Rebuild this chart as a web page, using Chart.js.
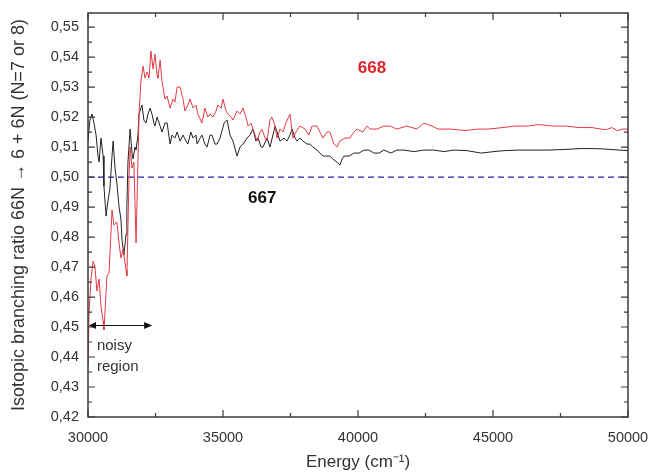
<!DOCTYPE html>
<html>
<head>
<meta charset="utf-8">
<script src="https://cdn.jsdelivr.net/npm/chart.js@4.4.0/dist/chart.umd.min.js"></script>
<style>
  html, body { margin: 0; padding: 0; background: #fff; }
  #wrap { width: 651px; height: 473px; }
</style>
</head>
<body>
<div id="wrap"><canvas id="brChart" width="651" height="473"></canvas></div>
<script>
// energies (cm-1) and isotopic branching ratios
const redEnergy = [30000, 30040, 30110, 30190, 30260, 30330, 30410, 30480, 30560, 30590, 30630, 30700, 30780, 30890, 30960, 31070, 31150, 31220, 31300, 31410, 31440, 31520, 31560, 31630, 31700, 31780, 31850, 31890, 31960, 32040, 32110, 32190, 32260, 32330, 32410, 32480, 32560, 32590, 32670, 32740, 32850, 32930, 33040, 33150, 33220, 33300, 33410, 33520, 33590, 33700, 33780, 33890, 34000, 34070, 34220, 34330, 34440, 34520, 34630, 34740, 34810, 34930, 35000, 35110, 35190, 35300, 35370, 35520, 35630, 35740, 35850, 35930, 36040, 36110, 36190, 36260, 36370, 36440, 36560, 36630, 36740, 36810, 36930, 37000, 37110, 37220, 37330, 37480, 37590, 37700, 37850, 38040, 38180, 38300, 38480, 38590, 38700, 38850, 38960, 39110, 39220, 39330, 39520, 39700, 39850, 39960, 40180, 40330, 40440, 40700, 40960, 41180, 41440, 41810, 42180, 42440, 42740, 42960, 43440, 43960, 44440, 44810, 45370, 45810, 46300, 46670, 47220, 47700, 48180, 48670, 49000, 49200, 49400, 49600, 49800, 50000];
const red668 = [0.437, 0.455, 0.466, 0.472, 0.470, 0.462, 0.466, 0.457, 0.452, 0.449, 0.455, 0.467, 0.468, 0.489, 0.484, 0.485, 0.478, 0.473, 0.476, 0.469, 0.467, 0.500, 0.510, 0.503, 0.505, 0.478, 0.505, 0.521, 0.532, 0.537, 0.533, 0.535, 0.533, 0.542, 0.536, 0.541, 0.534, 0.533, 0.539, 0.532, 0.526, 0.527, 0.523, 0.526, 0.525, 0.530, 0.530, 0.526, 0.522, 0.524, 0.526, 0.523, 0.524, 0.521, 0.518, 0.523, 0.520, 0.521, 0.520, 0.522, 0.524, 0.523, 0.526, 0.522, 0.521, 0.520, 0.519, 0.522, 0.521, 0.523, 0.520, 0.517, 0.518, 0.516, 0.514, 0.512, 0.515, 0.516, 0.513, 0.512, 0.519, 0.520, 0.517, 0.513, 0.516, 0.515, 0.518, 0.521, 0.513, 0.515, 0.517, 0.516, 0.514, 0.517, 0.517, 0.515, 0.513, 0.515, 0.515, 0.511, 0.510, 0.512, 0.513, 0.513, 0.515, 0.516, 0.515, 0.517, 0.516, 0.516, 0.517, 0.517, 0.516, 0.517, 0.516, 0.518, 0.517, 0.516, 0.516, 0.5155, 0.516, 0.516, 0.5165, 0.517, 0.517, 0.5175, 0.517, 0.517, 0.5165, 0.5165, 0.516, 0.5158, 0.5165, 0.5155, 0.516, 0.516];

const blackEnergy = [30000, 30070, 30150, 30220, 30300, 30370, 30410, 30480, 30560, 30590, 30670, 30740, 30810, 30890, 30930, 31000, 31070, 31150, 31220, 31260, 31330, 31410, 31440, 31480, 31560, 31630, 31670, 31740, 31780, 31850, 31890, 31960, 32000, 32070, 32150, 32220, 32300, 32370, 32440, 32480, 32560, 32670, 32740, 32850, 32930, 33040, 33110, 33220, 33300, 33410, 33520, 33630, 33700, 33810, 33890, 34000, 34040, 34150, 34220, 34330, 34410, 34520, 34590, 34700, 34780, 34890, 35040, 35150, 35260, 35370, 35520, 35630, 35740, 35890, 36000, 36110, 36220, 36300, 36410, 36480, 36630, 36740, 36930, 37040, 37110, 37260, 37370, 37480, 37560, 37670, 37740, 37850, 37960, 38110, 38220, 38330, 38480, 38590, 38700, 38850, 38960, 39070, 39220, 39330, 39410, 39480, 39670, 39850, 40040, 40220, 40410, 40590, 40780, 40960, 41220, 41440, 41700, 42070, 42440, 42810, 43180, 43550, 44040, 44560, 45040, 45410, 45960, 46520, 47070, 47630, 48260, 48740, 49220, 49670, 50000];
const black667 = [0.512, 0.519, 0.521, 0.518, 0.514, 0.507, 0.505, 0.513, 0.507, 0.497, 0.487, 0.492, 0.496, 0.507, 0.512, 0.503, 0.498, 0.490, 0.486, 0.479, 0.474, 0.481, 0.490, 0.505, 0.516, 0.508, 0.506, 0.510, 0.509, 0.514, 0.521, 0.523, 0.524, 0.519, 0.518, 0.521, 0.523, 0.521, 0.518, 0.517, 0.520, 0.517, 0.515, 0.518, 0.518, 0.511, 0.514, 0.513, 0.515, 0.512, 0.514, 0.512, 0.511, 0.515, 0.513, 0.514, 0.511, 0.513, 0.514, 0.511, 0.510, 0.514, 0.514, 0.511, 0.511, 0.513, 0.518, 0.519, 0.514, 0.512, 0.507, 0.510, 0.511, 0.513, 0.514, 0.516, 0.512, 0.513, 0.510, 0.510, 0.513, 0.510, 0.517, 0.514, 0.512, 0.513, 0.512, 0.514, 0.516, 0.513, 0.512, 0.513, 0.512, 0.511, 0.511, 0.510, 0.509, 0.508, 0.507, 0.507, 0.507, 0.506, 0.505, 0.504, 0.506, 0.507, 0.507, 0.508, 0.508, 0.509, 0.509, 0.508, 0.508, 0.509, 0.508, 0.509, 0.509, 0.5085, 0.509, 0.509, 0.5085, 0.509, 0.5088, 0.508, 0.5085, 0.5088, 0.509, 0.509, 0.509, 0.5092, 0.5095, 0.5095, 0.5093, 0.509, 0.5088];

const refEnergy = [30000, 50000];
const refRatio = [0.50, 0.50];

const xTicks = [30000, 35000, 40000, 45000, 50000];
const xMinor = [32500, 37500, 42500, 47500];
const yTicks = [0.42, 0.43, 0.44, 0.45, 0.46, 0.47, 0.48, 0.49, 0.50, 0.51, 0.52, 0.53, 0.54, 0.55];
const yMinor = [0.425, 0.435, 0.445, 0.455, 0.465, 0.475, 0.485, 0.495, 0.505, 0.515, 0.525, 0.535, 0.545];

// text notes placed in data units
const notes = [
    { text: "668", x: 40520, y: 0.5364, color: "#e0242c", font: "bold 17px 'Liberation Sans', Arial, sans-serif", align: "center" },
    { text: "667", x: 36450, y: 0.4928, color: "#111", font: "bold 17px 'Liberation Sans', Arial, sans-serif", align: "center" },
    { text: "noisy", x: 30330, y: 0.4438, color: "#333", font: "15px 'Liberation Sans', Arial, sans-serif", align: "left" },
    { text: "region", x: 30330, y: 0.4368, color: "#333", font: "15px 'Liberation Sans', Arial, sans-serif", align: "left" },
];
const arrowFrom = 30000, arrowTo = 32300, arrowLevel = 0.4505;

function toPoints(xs, ys) {
    return xs.map((x, i) => ({ x: x, y: ys[i] }));
}

const framePlugin = {
    id: "frame",
    afterDatasetsDraw(chart) {
        const ctx = chart.ctx;
        const a = chart.chartArea;
        const xs = chart.scales.x, ys = chart.scales.y;
        ctx.save();
        ctx.strokeStyle = "#3a3a3a";
        ctx.lineWidth = 1.5;
        ctx.strokeRect(a.left, a.top, a.right - a.left, a.bottom - a.top);

        ctx.lineWidth = 1.2;
        const tickX = (v, len) => {
            const px = xs.getPixelForValue(v);
            ctx.beginPath();
            ctx.moveTo(px, a.bottom); ctx.lineTo(px, a.bottom - len);
            ctx.moveTo(px, a.top); ctx.lineTo(px, a.top + len);
            ctx.stroke();
        };
        const tickY = (v, len) => {
            const py = ys.getPixelForValue(v);
            ctx.beginPath();
            ctx.moveTo(a.left, py); ctx.lineTo(a.left + len, py);
            ctx.moveTo(a.right, py); ctx.lineTo(a.right - len, py);
            ctx.stroke();
        };
        xTicks.forEach(v => tickX(v, 7));
        xMinor.forEach(v => tickX(v, 4));
        yTicks.forEach(v => tickY(v, 7));
        yMinor.forEach(v => tickY(v, 4));

        // noisy region arrow
        const ay = ys.getPixelForValue(arrowLevel);
        const ax0 = xs.getPixelForValue(arrowFrom) + 2;
        const ax1 = xs.getPixelForValue(arrowTo);
        ctx.strokeStyle = "#111";
        ctx.fillStyle = "#111";
        ctx.lineWidth = 1.2;
        ctx.beginPath();
        ctx.moveTo(ax0, ay); ctx.lineTo(ax1, ay);
        ctx.stroke();
        ctx.beginPath();
        ctx.moveTo(ax1 + 2, ay); ctx.lineTo(ax1 - 6, ay - 3.5); ctx.lineTo(ax1 - 6, ay + 3.5);
        ctx.closePath(); ctx.fill();
        ctx.beginPath();
        ctx.moveTo(ax0 - 1, ay); ctx.lineTo(ax0 + 6, ay - 3.5); ctx.lineTo(ax0 + 6, ay + 3.5);
        ctx.closePath(); ctx.fill();

        ctx.textBaseline = "middle";
        for (const n of notes) {
            ctx.font = n.font;
            ctx.fillStyle = n.color;
            ctx.textAlign = n.align;
            ctx.fillText(n.text, xs.getPixelForValue(n.x), ys.getPixelForValue(n.y));
        }
        ctx.restore();
    }
};

const axisFont = { family: "'Liberation Sans', Arial, sans-serif", size: 14.5 };

new Chart(document.getElementById("brChart").getContext("2d"), {
    type: "line",
    data: {
        datasets: [
            {
                label: "668",
                data: toPoints(redEnergy, red668),
                borderColor: "#e23a42",
                borderWidth: 1,
                pointRadius: 0,
                tension: 0,
            },
            {
                label: "667",
                data: toPoints(blackEnergy, black667),
                borderColor: "#222",
                borderWidth: 1,
                pointRadius: 0,
                tension: 0,
            },
            {
                label: "0.50",
                data: toPoints(refEnergy, refRatio),
                borderColor: "#2222a8",
                borderWidth: 1.3,
                borderDash: [6, 4],
                pointRadius: 0,
            },
        ]
    },
    options: {
        responsive: false,
        animation: false,
        devicePixelRatio: 1,
        layout: { padding: { left: 0, top: 13, right: 0, bottom: 0 } },
        plugins: {
            legend: { display: false },
            tooltip: { enabled: false },
        },
        scales: {
            x: {
                type: "linear",
                min: 30000,
                max: 50000,
                afterFit: s => { s.height = 56; s.paddingLeft = 0; s.paddingRight = 23; },
                afterBuildTicks: s => { s.ticks = xTicks.map(v => ({ value: v })); },
                grid: { display: false, drawTicks: false },
                border: { display: false },
                ticks: {
                    color: "#333",
                    font: axisFont,
                    padding: 12,
                    maxRotation: 0,
                    callback: v => String(v),
                },
                title: {
                    display: true,
                    text: "Energy (cm⁻¹)",
                    color: "#333",
                    font: { family: "'Liberation Sans', Arial, sans-serif", size: 17 },
                    padding: { top: 0, bottom: 0 },
                },
            },
            y: {
                type: "linear",
                min: 0.42,
                max: 0.5547,
                afterFit: s => { s.width = 88; s.paddingTop = 0; s.paddingBottom = 0; },
                afterBuildTicks: s => { s.ticks = yTicks.map(v => ({ value: v })); },
                grid: { display: false, drawTicks: false },
                border: { display: false },
                ticks: {
                    color: "#333",
                    font: axisFont,
                    padding: 9,
                    callback: v => v.toFixed(2).replace(".", ","),
                },
                title: {
                    display: true,
                    text: "Isotopic branching ratio 66N \u2192 6 + 6N (N=7 or 8)",
                    color: "#333",
                    font: { family: "'Liberation Sans', Arial, sans-serif", size: 18 },
                    padding: { top: 8, bottom: 8 },
                },
            },
        },
    },
    plugins: [framePlugin],
});
</script>
</body>
</html>
